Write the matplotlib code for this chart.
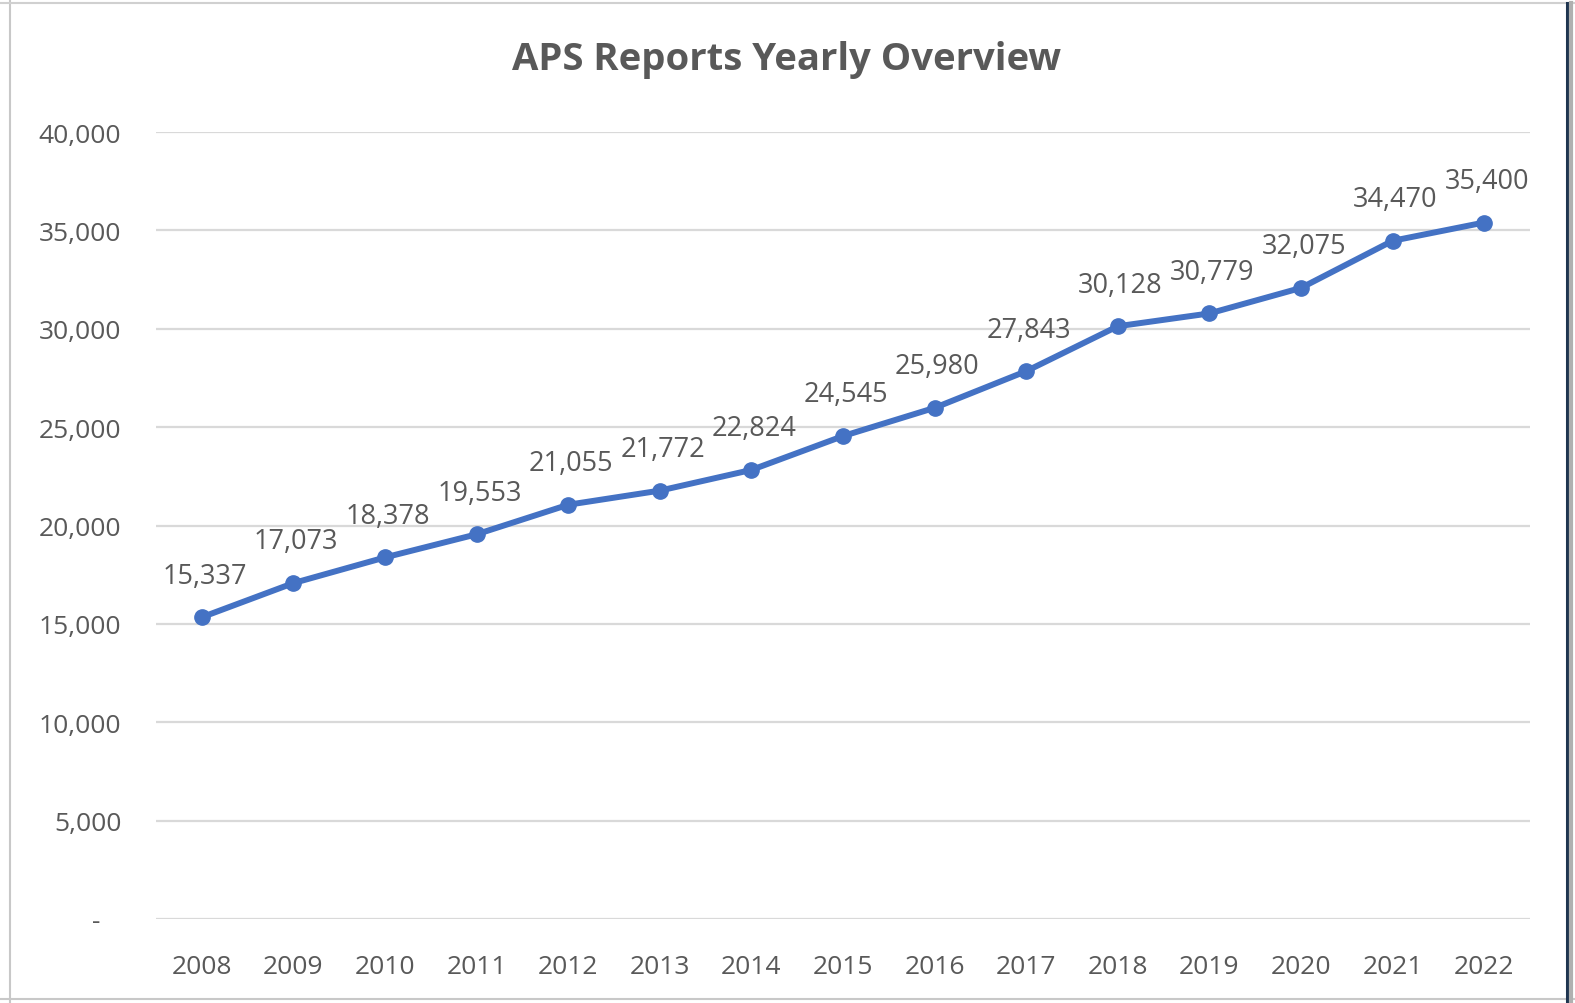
import matplotlib.pyplot as plt
from matplotlib.lines import Line2D
from matplotlib.ticker import FixedLocator

years = ['2008', '2009', '2010', '2011', '2012', '2013', '2014', '2015',
         '2016', '2017', '2018', '2019', '2020', '2021', '2022']
reports = [15337, 17073, 18378, 19553, 21055, 21772, 22824, 24545,
           25980, 27843, 30128, 30779, 32075, 34470, 35400]
y_ticks = [0, 5000, 10000, 15000, 20000, 25000, 30000, 35000, 40000]

plt.rcParams['font.family'] = ['Open Sans', 'DejaVu Sans']
text_color = '#595959'
line_color = '#4472C4'

W, H = 1575, 1004
fig = plt.figure(figsize=(W / 100, H / 100), dpi=100)
ax = fig.add_axes([156 / W, 1 - 920 / H, (1530 - 156) / W, (920 - 133) / H])

x = list(range(len(years)))
ax.plot(x, reports, color=line_color, linewidth=4.3, marker='o',
        markersize=11, solid_capstyle='round', zorder=3)

for xi, v in zip(x, reports):
    ax.annotate(f'{v:,}', (xi, v), xytext=(2, 30), textcoords='offset points',
                ha='center', va='center', fontsize=19.5, color=text_color)

ax.set_xlim(-0.5, len(years) - 0.5)
ax.set_ylim(0, 40000)
ax.set_xticks(x)
ax.set_xticklabels(years)
ax.yaxis.set_major_locator(FixedLocator(y_ticks))
ax.set_yticklabels(['-   '] + [f'{t:,}' for t in y_ticks[1:]])
ax.tick_params(axis='both', length=0, labelsize=19, labelcolor=text_color)
ax.tick_params(axis='y', pad=25)
ax.tick_params(axis='x', pad=25)
ax.grid(axis='y', color='#D9D9D9', linewidth=1.6)
ax.set_axisbelow(True)
for s in ax.spines.values():
    s.set_visible(False)

fig.text(787 / W, 1 - 60 / H, 'APS Reports Yearly Overview', ha='center',
         va='center', fontsize=27.5, fontweight='bold', color=text_color)

# outer frame of the chart area
fig.add_artist(Line2D([10 / W, 10 / W], [0, 1], transform=fig.transFigure,
                      color='#C8C8C8', linewidth=1.5))
fig.add_artist(Line2D([0, 1], [1 - 4 / H, 1 - 4 / H], transform=fig.transFigure,
                      color='#D0D0D0', linewidth=1.5))
fig.add_artist(Line2D([0, 1], [1 - 1000 / H, 1 - 1000 / H], transform=fig.transFigure,
                      color='#C8C8C8', linewidth=1.5))
fig.add_artist(Line2D([1567 / W, 1567 / W], [0, 1 - 4 / H], transform=fig.transFigure,
                      color='#1F3550', linewidth=2.2))
fig.add_artist(Line2D([1571 / W, 1571 / W], [0, 1 - 4 / H], transform=fig.transFigure,
                      color='#B0B0B0', linewidth=3))

fig.savefig('out.png', dpi=100)
